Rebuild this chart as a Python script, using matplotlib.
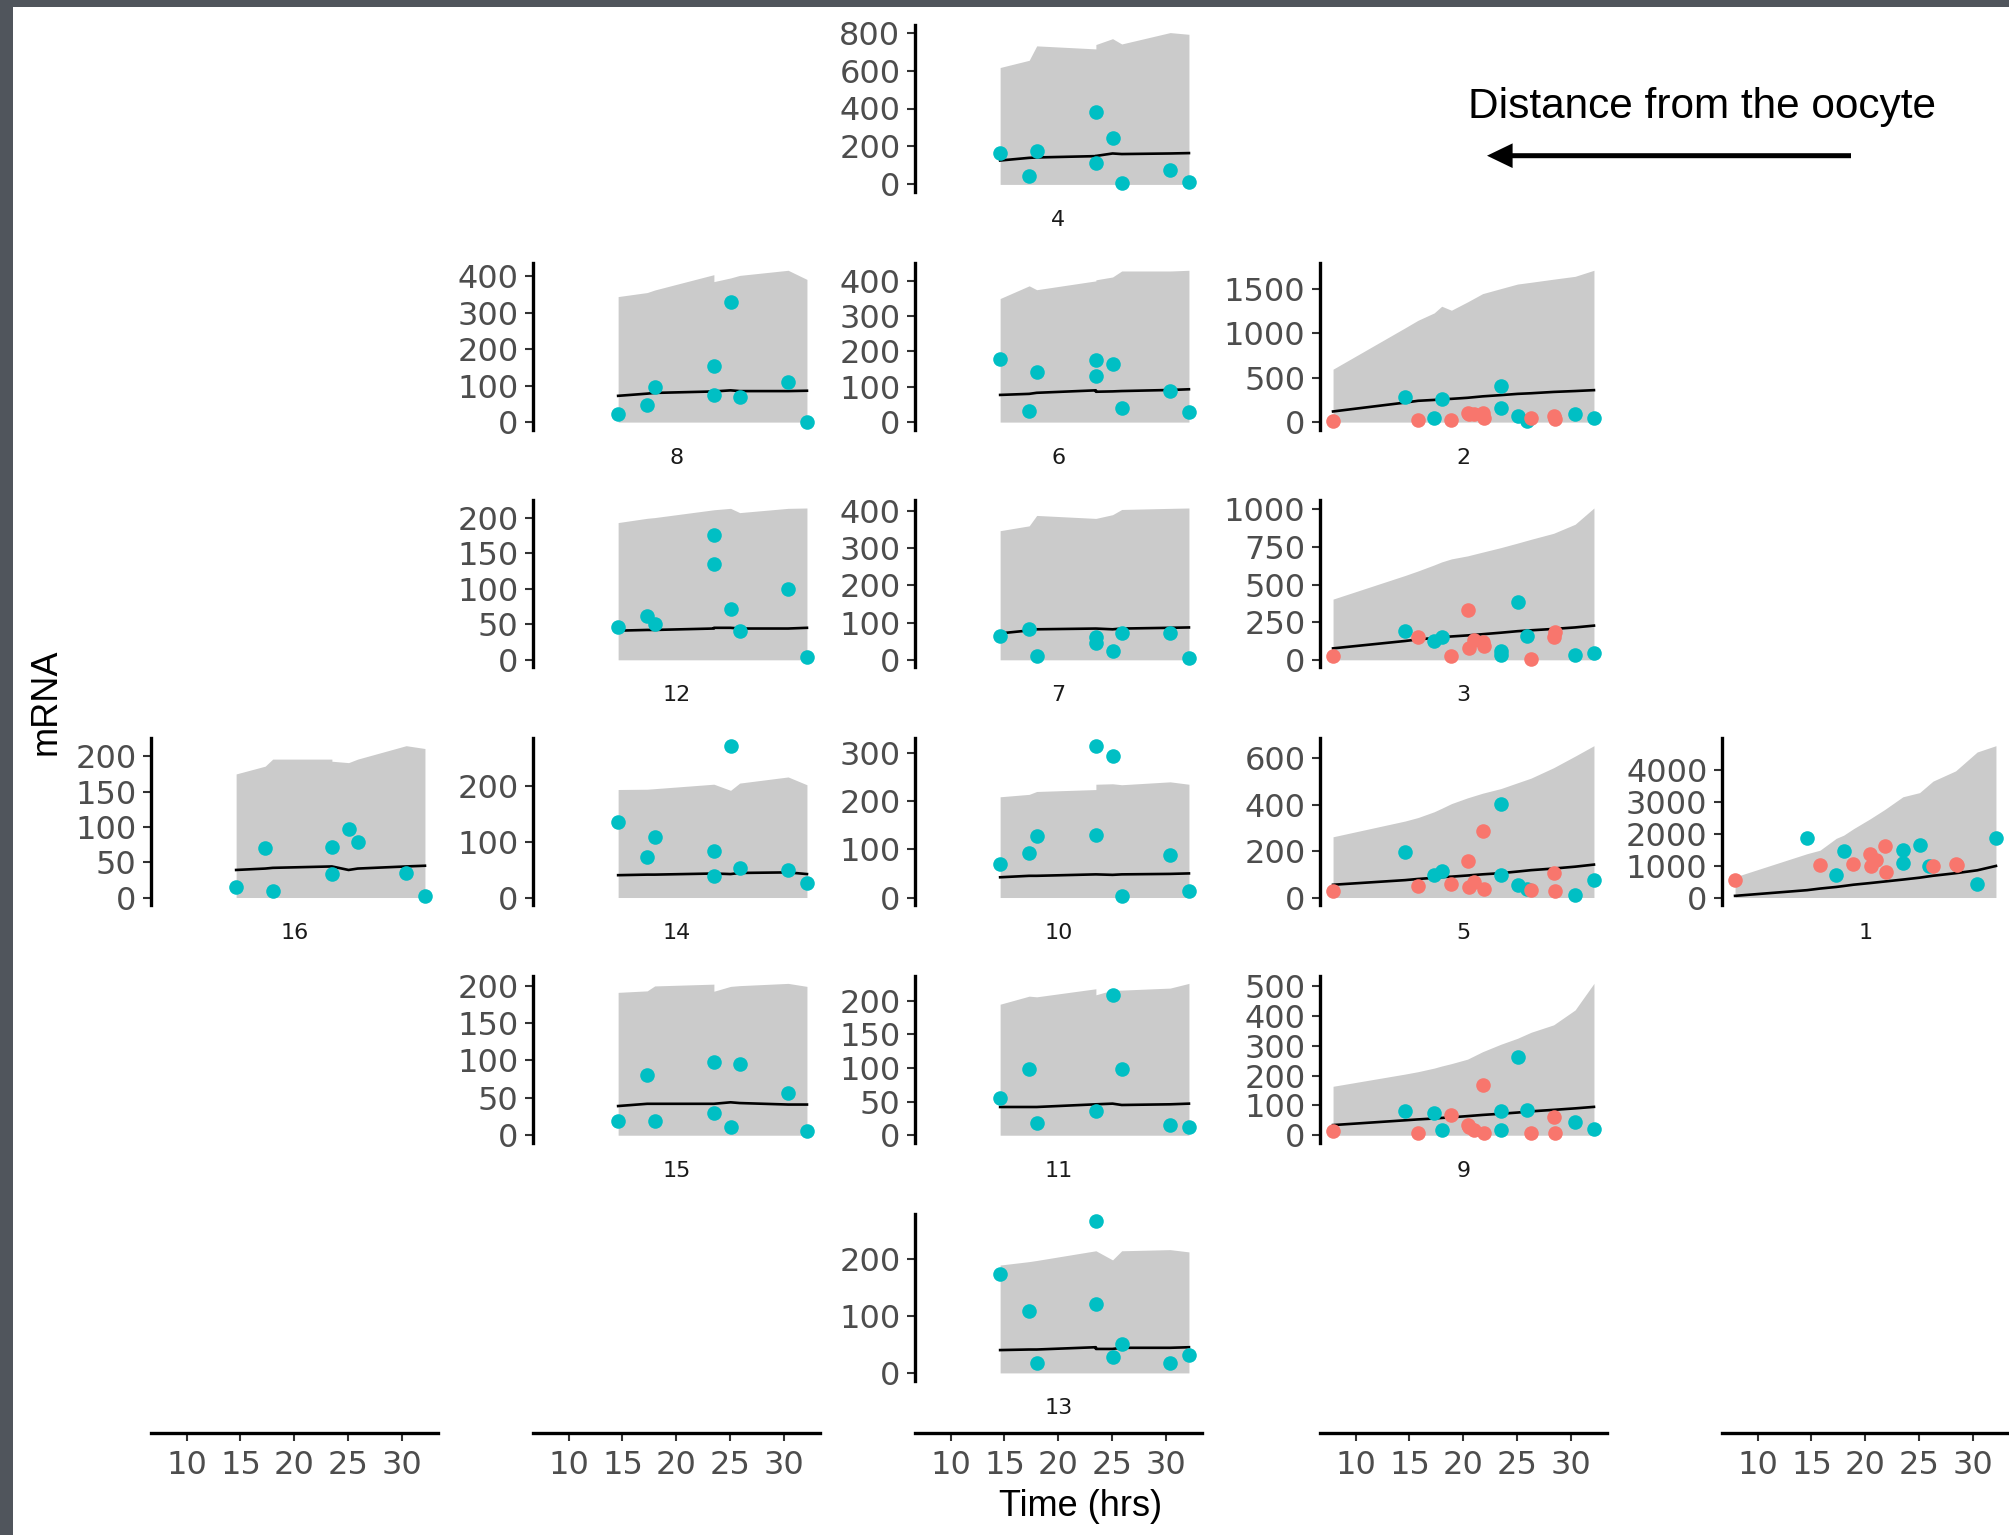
import numpy as np
import matplotlib.pyplot as plt
from matplotlib.patches import Rectangle, FancyArrow

# time points (hrs)
t_teal = [14.6, 17.3, 18.0, 23.5, 23.5, 25.05, 25.9, 30.4, 32.15]
t_teal8 = [14.6, 17.3, 18.0, 23.5, 25.05, 25.9, 30.4, 32.15]
t_red = [7.9, 15.8, 18.9, 20.4, 20.5, 21.0, 21.8, 21.9, 26.3, 28.4, 28.5]
rx_short = [14.6, 17.3, 18.0, 23.5, 23.5, 25.05, 25.9, 30.4, 32.15]
rx_long = [7.9, 14.6, 15.8, 17.3, 18.0, 18.9, 20.4, 21.8, 23.5, 25.05, 26.3, 28.4, 30.4, 32.15]
x_ticks = [10, 15, 20, 25, 30]

# panel values: points, ribbon upper bound, model mean
p4_teal = [163, 46, 175, 114, 381, 246, 5, 75, 12]
p4_upper = [616, 654, 730, 714, 737, 768, 740, 800, 791]
p4_mean = [126, 140, 142, 149, 150, 163, 160, 163, 165]

p8_teal = [22, 48, 96, 153, 75, 329, 68, 110, 0]
p8_upper = [344, 355, 362, 404, 385, 395, 402, 416, 391]
p8_mean = [72, 78, 80, 84, 84, 87, 85, 85, 86]

p6_teal = [178, 32, 141, 175, 130, 165, 39, 87, 28]
p6_upper = [350, 386, 375, 400, 403, 411, 428, 428, 430]
p6_mean = [77, 80, 83, 90, 86, 87, 88, 91, 93]

p12_teal = [46, 62, 51, 176, 135, 72, 41, 99, 4]
p12_upper = [193, 199, 200, 211, 211, 213, 207, 213, 213.5]
p12_mean = [41, 42, 42, 44, 45, 45, 44, 44, 45]

p7_teal = [64, 84, 9, 60, 44, 24, 71, 71, 5]
p7_upper = [347, 360, 388, 380, 380, 390, 404, 407, 408]
p7_mean = [71, 79, 82, 84, 84, 82, 84, 86, 87]

p16_teal = [15.5, 70, 9.4, 72, 34, 97, 78, 35, 2.4]
p16_upper = [175, 186, 196, 196, 193, 191, 196, 215, 211]
p16_mean = [39, 41, 42, 44, 44, 39, 41, 44, 45]

p14_teal = [136, 73, 108, 83, 39, 272, 52, 50, 26]
p14_upper = [193.5, 194, 195, 203, 203, 192, 205, 216, 202]
p14_mean = [40, 41, 41, 43, 43, 42, 44, 45, 42]

p10_teal = [69, 92, 127, 129, 315, 293, 3, 89, 13]
p10_upper = [209, 214, 220, 224, 235, 236, 234, 240, 235]
p10_mean = [42, 45, 45, 48, 48, 47, 48, 49, 50]

p15_teal = [18.6, 80, 18.6, 98, 30, 10.6, 95, 56, 5.3]
p15_upper = [191, 193, 199.6, 202, 192.5, 199, 200, 203, 199]
p15_mean = [39, 42, 42, 42, 42, 44, 43, 41, 41]

p11_teal = [55, 99, 18, 36, 208, 98, 15, 12]
p11_upper = [195, 207, 206, 218, 209, 216, 216, 219, 226]
p11_mean = [42, 42, 42, 46, 46, 47, 45, 46, 47]

p13_teal = [173, 109, 18, 121, 266, 27, 50, 17, 32]
p13_upper = [189, 195, 197, 214, 214, 198, 214, 216, 212]
p13_mean = [40, 41, 41, 45, 42, 42, 44, 44, 45]

p2_teal = [285, 41, 259, 409, 154, 71, 11, 86, 41]
p2_red = [11, 26, 19, 97, 90, 86, 97, 41, 49, 67, 34]
p2_upper = [596, 1062, 1147, 1230, 1305, 1260, 1354, 1447, 1504, 1555, 1575, 1610, 1642, 1710]
p2_mean = [120, 220, 240, 250, 258, 262, 274, 290, 304, 318, 325, 340, 350, 360]

p3_teal = [193, 126, 151, 59, 34, 387, 160, 34, 42]
p3_red = [25, 151, 25, 328, 76, 134, 118, 92, 8, 151, 185]
p3_upper = [403, 560, 590, 630, 650, 670, 690, 715, 745, 775, 800, 840, 900, 1008]
p3_mean = [76, 125, 135, 145, 150, 155, 162, 170, 180, 190, 196, 205, 215, 227]

p5_teal = [196, 98, 115, 98, 404, 55, 38, 11, 76]
p5_red = [27, 49, 60, 158, 44, 65, 289, 38, 33, 104, 27]
p5_upper = [262, 330, 345, 370, 385, 405, 430, 450, 470, 495, 515, 560, 610, 655]
p5_mean = [55, 75, 80, 85, 88, 90, 95, 100, 105, 112, 118, 125, 133, 142]

p9_teal = [82, 73, 17, 82, 17, 263, 86, 43, 22]
p9_red = [13, 9, 69, 34, 26, 17, 168, 9, 9, 60, 9]
p9_upper = [164, 205, 213, 225, 232, 240, 255, 280, 305, 325, 345, 370, 420, 509]
p9_mean = [34, 50, 53, 56, 58, 60, 64, 68, 72, 76, 80, 85, 90, 95]

p1_teal = [1849, 696, 1444, 1475, 1091, 1631, 997, 436, 1870]
p1_red = [540, 1029, 1060, 1351, 977, 1164, 1621, 790, 997, 1049, 1030]
p1_upper = [644, 1371, 1480, 1850, 1950, 2150, 2450, 2750, 3150, 3280, 3640, 3960, 4550, 4748]
p1_mean = [52, 230, 280, 330, 360, 400, 450, 500, 561, 620, 680, 760, 850, 987]

# (label, row, column, teal times, teal, red, ribbon x, upper, mean, y step)
panels = [
    ('4', 0, 2, t_teal, p4_teal, None, rx_short, p4_upper, p4_mean, 200),
    ('8', 1, 1, t_teal, p8_teal, None, rx_short, p8_upper, p8_mean, 100),
    ('6', 1, 2, t_teal, p6_teal, None, rx_short, p6_upper, p6_mean, 100),
    ('2', 1, 3, t_teal, p2_teal, p2_red, rx_long, p2_upper, p2_mean, 500),
    ('12', 2, 1, t_teal, p12_teal, None, rx_short, p12_upper, p12_mean, 50),
    ('7', 2, 2, t_teal, p7_teal, None, rx_short, p7_upper, p7_mean, 100),
    ('3', 2, 3, t_teal, p3_teal, p3_red, rx_long, p3_upper, p3_mean, 250),
    ('16', 3, 0, t_teal, p16_teal, None, rx_short, p16_upper, p16_mean, 50),
    ('14', 3, 1, t_teal, p14_teal, None, rx_short, p14_upper, p14_mean, 100),
    ('10', 3, 2, t_teal, p10_teal, None, rx_short, p10_upper, p10_mean, 100),
    ('5', 3, 3, t_teal, p5_teal, p5_red, rx_long, p5_upper, p5_mean, 200),
    ('1', 3, 4, t_teal, p1_teal, p1_red, rx_long, p1_upper, p1_mean, 1000),
    ('15', 4, 1, t_teal, p15_teal, None, rx_short, p15_upper, p15_mean, 50),
    ('11', 4, 2, t_teal8, p11_teal, None, rx_short, p11_upper, p11_mean, 50),
    ('9', 4, 3, t_teal, p9_teal, p9_red, rx_long, p9_upper, p9_mean, 100),
    ('13', 5, 2, t_teal, p13_teal, None, rx_short, p13_upper, p13_mean, 100),
]

TEAL = '#00BFC4'
RED = '#F8766D'
RIBBON = '#cbcbcb'

# layout in pixels
W, H = 2009, 1535
col_left = [151, 533, 915, 1320, 1722]
PW, PH = 287, 167
row_top0, row_pitch = 25, 237.7
xaxis_y = 1433

all_t = t_teal + t_red + rx_long
tlo, thi = min(all_t), max(all_t)
xlim = (tlo - 0.05 * (thi - tlo), thi + 0.05 * (thi - tlo))

fig = plt.figure(figsize=(W / 100, H / 100), dpi=100)


def rect(x0, y0, w, h):
    return [x0 / W, 1 - (y0 + h) / H, w / W, h / H]


for name, r, c, tt, teal, red, rx, up, mean, step in panels:
    x0 = col_left[c]
    y0 = row_top0 + r * row_pitch
    ax = fig.add_axes(rect(x0, y0, PW, PH))
    ax.fill_between(rx, 0, up, color=RIBBON, lw=0, zorder=1)
    ax.plot(rx, mean, color='black', lw=1.9, zorder=2)
    ax.scatter(tt, teal, s=110, color=TEAL, lw=0, zorder=3, clip_on=False)
    vals = [0] + list(up) + list(teal)
    if red is not None:
        ax.scatter(t_red, red, s=110, color=RED, lw=0, zorder=4, clip_on=False)
        vals += list(red)
    lo, hi = min(vals), max(vals)
    pad = 0.05 * (hi - lo)
    ax.set_ylim(lo - pad, hi + pad)
    ax.set_xlim(*xlim)
    ax.set_yticks(np.arange(0, hi + pad, step))
    ax.yaxis.set_major_formatter(plt.FuncFormatter(lambda v, p: f'{v:.0f}'))
    ax.set_xticks([])
    for s in ['top', 'right', 'bottom']:
        ax.spines[s].set_visible(False)
    ax.spines['left'].set_linewidth(2.4)
    ax.patch.set_alpha(0)
    ax.tick_params(axis='y', length=5.5, width=1.5, pad=5, labelsize=23,
                   labelcolor='#4D4D4D', color='#333333')
    fig.text((x0 + PW / 2) / W, 1 - (y0 + PH + 28) / H, name, ha='center',
             va='center', fontsize=16, color='#1a1a1a')

# x axes at the bottom of each column
for x0 in col_left:
    bax = fig.add_axes([x0 / W, 1 - xaxis_y / H, PW / W, 0.0001])
    bax.set_xlim(*xlim)
    bax.set_xticks(x_ticks)
    bax.set_yticks([])
    for s in ['top', 'right', 'left']:
        bax.spines[s].set_visible(False)
    bax.spines['bottom'].set_linewidth(2.4)
    bax.patch.set_alpha(0)
    bax.tick_params(axis='x', length=5.5, width=1.5, pad=7, labelsize=23,
                    labelcolor='#4D4D4D', color='#333333')

# overlay in pixel coordinates for annotations and border
ov = fig.add_axes([0, 0, 1, 1])
ov.set_xlim(0, W)
ov.set_ylim(H, 0)
ov.axis('off')
ov.add_patch(Rectangle((0, 0), 13, H, color='#50555c', lw=0))
ov.add_patch(Rectangle((0, 0), W, 7, color='#50555c', lw=0))
ov.add_patch(FancyArrow(1851, 155.7, 1487 - 1851, 0, width=5, head_width=24.7,
                        head_length=25.6, length_includes_head=True,
                        color='black', lw=0))
ov.text(1702, 107, 'Distance from the oocyte', ha='center', va='center',
        fontsize=30.5, family='Liberation Sans', color='black')
ov.text(46, 702, 'mRNA', rotation=90, ha='center', va='center',
        fontsize=26, family='Liberation Sans', color='black')
ov.text(1081, 1507, 'Time (hrs)', ha='center', va='center',
        fontsize=26, family='Liberation Sans', color='black')

fig.savefig('out.png', dpi=100)
